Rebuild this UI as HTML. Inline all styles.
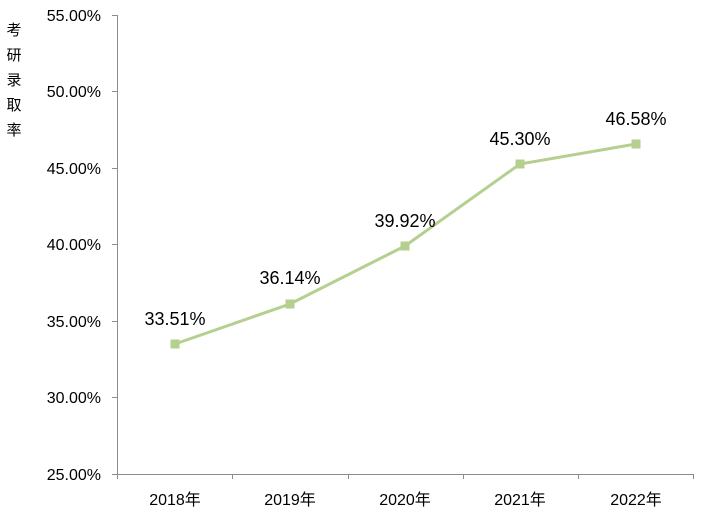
<!DOCTYPE html>
<html><head><meta charset="utf-8"><style>
html,body{margin:0;padding:0;background:#fff;}
svg{display:block;}
</style></head><body>
<svg width="708" height="515" viewBox="0 0 708 515" xmlns="http://www.w3.org/2000/svg">
<g stroke="#8c8c8c" stroke-width="1" fill="none">
<line x1="117.5" y1="15" x2="117.5" y2="474"/>
<line x1="117" y1="474.5" x2="694" y2="474.5"/>
<line x1="112" y1="15.5" x2="117" y2="15.5"/>
<line x1="112" y1="91.5" x2="117" y2="91.5"/>
<line x1="112" y1="168.5" x2="117" y2="168.5"/>
<line x1="112" y1="244.5" x2="117" y2="244.5"/>
<line x1="112" y1="321.5" x2="117" y2="321.5"/>
<line x1="112" y1="397.5" x2="117" y2="397.5"/>
<line x1="112" y1="474.5" x2="117" y2="474.5"/>
<line x1="117.5" y1="474" x2="117.5" y2="479"/>
<line x1="232.5" y1="474" x2="232.5" y2="479"/>
<line x1="348.5" y1="474" x2="348.5" y2="479"/>
<line x1="463.5" y1="474" x2="463.5" y2="479"/>
<line x1="578.5" y1="474" x2="578.5" y2="479"/>
<line x1="693.5" y1="474" x2="693.5" y2="479"/>
</g>
<g font-family="'Liberation Sans','DejaVu Sans',sans-serif" font-size="16" fill="#000" text-anchor="end">
<text x="101" y="21">55.00%</text>
<text x="101" y="97">50.00%</text>
<text x="101" y="174">45.00%</text>
<text x="101" y="250">40.00%</text>
<text x="101" y="327">35.00%</text>
<text x="101" y="403">30.00%</text>
<text x="101" y="480">25.00%</text>
</g>
<g font-family="'Liberation Sans','Noto Sans CJK SC',sans-serif" font-size="16" fill="#000" text-anchor="middle">
<text x="175" y="505">2018年</text>
<text x="290" y="505">2019年</text>
<text x="405" y="505">2020年</text>
<text x="520" y="505">2021年</text>
<text x="636" y="505">2022年</text>
</g>
<g font-family="'Noto Sans CJK SC',sans-serif" font-size="15" fill="#000" text-anchor="middle">
<text x="14" y="35">考</text>
<text x="14" y="60">研</text>
<text x="14" y="85">录</text>
<text x="14" y="110">取</text>
<text x="14" y="135">率</text>
</g>
<polyline points="175,344 290,304 405,246 520,164 636,144" fill="none" stroke="#b5cf8f" stroke-width="3"/>
<g fill="#b5cf8f">
<rect x="170.5" y="339.5" width="9" height="9"/>
<rect x="285.5" y="299.5" width="9" height="9"/>
<rect x="400.5" y="241.5" width="9" height="9"/>
<rect x="515.5" y="159.5" width="9" height="9"/>
<rect x="631.5" y="139.5" width="9" height="9"/>
</g>
<g font-family="'Liberation Sans','DejaVu Sans',sans-serif" font-size="18" fill="#000" text-anchor="middle">
<text x="175" y="325">33.51%</text>
<text x="290" y="284">36.14%</text>
<text x="405" y="227">39.92%</text>
<text x="520" y="145">45.30%</text>
<text x="636" y="125">46.58%</text>
</g>
</svg>
</body></html>
